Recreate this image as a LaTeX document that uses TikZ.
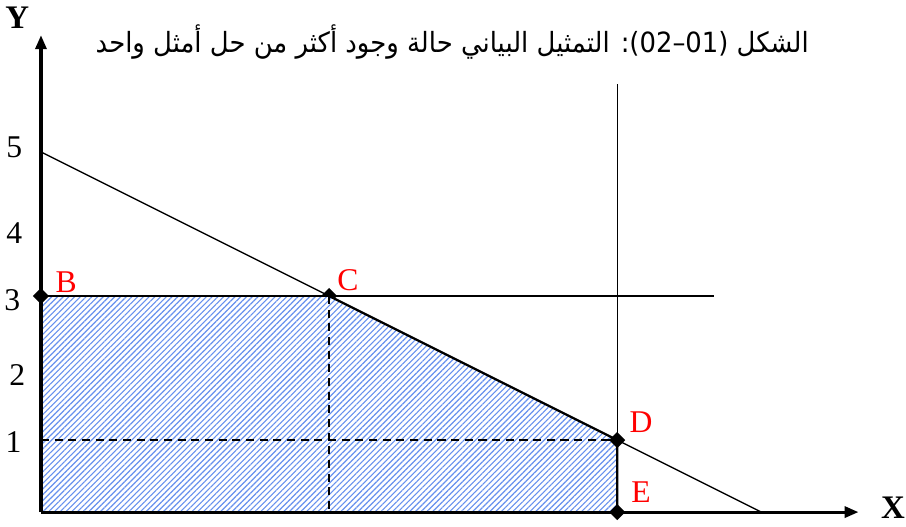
\documentclass[tikz,border=0pt]{standalone}
\usepackage{fontspec}
\setmainfont{Liberation Serif}
\newfontfamily\arabicfont[Script=Arabic]{DejaVu Sans}
\TeXXeTstate=1
\usepackage{tikz}
\usetikzlibrary{arrows.meta, patterns.meta, shapes.geometric}
\usepackage{xcolor}
\definecolor{Hatch}{HTML}{6690EE}
\definecolor{LabRed}{HTML}{FF0000}

\tikzset{
  corner/.style={diamond, fill=black, inner sep=0pt, minimum size=6.5pt},
  ptlabel/.style={text=LabRed, inner sep=0pt},
  ticklabel/.style={inner sep=0pt},
  axis/.style={line width=1.2pt, ->},
  guide/.style={line width=0.6pt, dash pattern=on 3.2pt off 2.2pt}
}

\begin{document}
\begin{tikzpicture}[>={Triangle[length=5.5pt, width=4.4pt]}, font=\fontsize{12.5}{14}\selectfont]
  \useasboundingbox (-0.569,-0.194) rectangle (12.01,7.11);

  % points of the region
  \coordinate (O) at (0,0);
  \coordinate (B) at (0,3);
  \coordinate (C) at (4,3);
  \coordinate (D) at (8,1);
  \coordinate (E) at (8,0);
  \coordinate (Cfoot) at (4,0);
  \coordinate (Yone) at (0,1);
  \coordinate (Ytip) at (0,6.62);
  \coordinate (Xtip) at (11.35,0);
  \coordinate (topA) at (0,5);
  \coordinate (endA) at (10,0);
  \coordinate (endB) at (9.35,3);
  \coordinate (topC) at (8,5.94);

  \node[corner] (mC) at (C) {};

  % feasible region
  \fill[white] (O) -- (B) -- (C) -- (D) -- (E) -- cycle;
  \fill[pattern={Lines[angle=45, distance=1.6pt, line width=0.45pt]}, pattern color=Hatch]
    (O) -- (B) -- (C) -- (D) -- (E) -- cycle;

  % constraints
  \draw[line width=0.55pt] (topA) -- (endA);
  \draw[line width=0.8pt] (B) -- (endB);
  \draw[line width=0.5pt] (E) -- (topC);
  \draw[line width=0.9pt] (C) -- (D) -- (E);
  \draw[guide] (C) -- (Cfoot);
  \draw[guide] (Yone) -- (D);

  % axes
  \draw[axis] (O) -- (Ytip);
  \draw[axis] (O) -- (Xtip);
  \node[font=\fontsize{13}{14}\bfseries\selectfont] (ylab) at (-0.33,6.86) {Y};
  \node[font=\fontsize{13}{14}\bfseries\selectfont] (xlab) at (11.83,0.06) {X};

  \node[ticklabel] (t5) at (-0.37,5.06) {5};
  \node[ticklabel] (t4) at (-0.37,3.88) {4};
  \node[ticklabel] (t3) at (-0.40,2.94) {3};
  \node[ticklabel] (t2) at (-0.33,1.90) {2};
  \node[ticklabel] (t1) at (-0.38,0.97) {1};

  % corners
  \node[corner] (mB) at (B) {};
  \node[corner] (mD) at (D) {};
  \node[corner] (mE) at (E) {};
  \node[ptlabel] (lB) at (0.35,3.19) {B};
  \node[ptlabel] (lC) at (4.26,3.22) {C};
  \node[ptlabel] (lD) at (8.33,1.25) {D};
  \node[ptlabel] (lE) at (8.33,0.28) {E};

  % title
  \node[font=\fontsize{11}{14}\arabicfont, xscale=0.93, transform shape] (title) at (5.71,6.52)
    {\beginR الشكل (01–02): التمثيل البياني حالة وجود أكثر من حل أمثل واحد\endR};
\end{tikzpicture}
\end{document}
